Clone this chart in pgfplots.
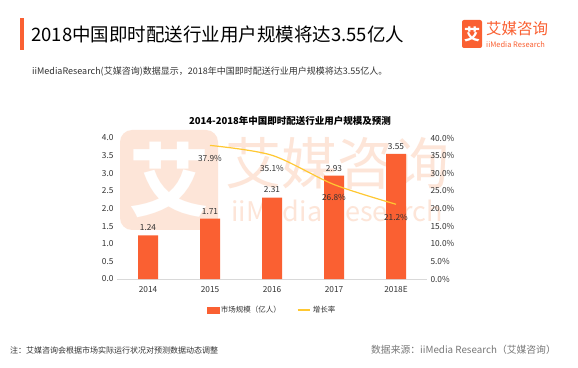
\documentclass[border=0pt]{standalone}
\usepackage{pgfplots}
\pgfplotsset{compat=1.18}
\usepackage{fontspec}
\setmainfont{Noto Sans CJK SC}
\definecolor{barc}{RGB}{250,96,50}
\definecolor{linec}{RGB}{255,200,50}
\definecolor{txt}{RGB}{50,50,50}
\definecolor{wm}{RGB}{253,229,216}
\definecolor{gr}{RGB}{120,120,120}
\begin{document}
\begin{tikzpicture}[x=1pt,y=1pt]
\useasboundingbox[fill=white] (0,0) rectangle (578,367);
% watermark
\fill[wm, rounded corners=12pt] (120,137) rectangle (218,237);
\node[text=white, font=\fontsize{80}{80}\selectfont\bfseries] at (169,187) {艾};
\node[text=wm, font=\fontsize{56}{56}\selectfont] at (337,204) {艾媒咨询};
\node[text=wm, font=\fontsize{27}{27}\selectfont] at (337,156) {iiMedia Research};
% header
\fill[barc] (20,317) rectangle (24,349);
\node[anchor=west, inner sep=0, font=\fontsize{18.5}{20}\selectfont, text=black] at (31,333) {2018中国即时配送行业用户规模将达3.55亿人};
\node[anchor=west, inner sep=0, font=\fontsize{9}{10}\selectfont, text=txt] at (32,295) {iiMediaResearch(艾媒咨询)数据显示，2018年中国即时配送行业用户规模将达3.55亿人。};
% logo
\fill[barc, rounded corners=2pt] (462,319) rectangle (482,347);
\node[text=white, font=\fontsize{16}{16}\selectfont\bfseries] at (472,333) {艾};
\node[anchor=west, inner sep=0, text=barc, font=\fontsize{15.5}{16}\selectfont] at (486,338) {艾媒咨询};
\node[anchor=west, inner sep=0, text=barc, font=\fontsize{7.5}{8}\selectfont] at (486,322) {iiMedia Research};
% chart title
\node[font=\fontsize{9.5}{10}\selectfont\bfseries, text=black] at (290,246) {2014-2018年中国即时配送行业用户规模及预测};
% footer
\node[anchor=west, inner sep=0, font=\fontsize{8}{9}\selectfont, text=txt] at (10,17) {注：艾媒咨询会根据市场实际运行状况对预测数据动态调整};
\node[anchor=east, inner sep=0, font=\fontsize{9.8}{10}\selectfont, text=gr] at (556,17) {数据来源：iiMedia Research（艾媒咨询）};

\begin{axis}[
  at={(117pt,88pt)}, anchor=south west,
  scale only axis, width=310pt, height=141pt,
  xmin=-0.5, xmax=4.5, ymin=0, ymax=4,
  ytick={0,0.5,...,4},
  yticklabel style={/pgf/number format/fixed, /pgf/number format/fixed zerofill, /pgf/number format/precision=1},
  xtick={0,1,2,3,4}, xticklabels={2014,2015,2016,2017,2018E},
  axis x line*=bottom, axis y line*=left,
  x axis line style={draw={rgb,255:red,217;green,217;blue,217}, -},
  y axis line style={draw=none},
  tick style={draw=none},
  ticklabel style={font=\fontsize{8.3}{9}\selectfont, text=txt},
  /pgf/number format/assume math mode=true,
  ybar, bar width=20pt,
  nodes near coords,
  nodes near coords style={font=\fontsize{8.3}{9}\selectfont, text=txt, yshift=1pt, /pgf/number format/fixed, /pgf/number format/fixed zerofill, /pgf/number format/precision=2},
]
\addplot[fill=barc, draw=none] coordinates {(0,1.24)(1,1.71)(2,2.31)(3,2.93)(4,3.55)};
\end{axis}

\begin{axis}[
  at={(117pt,88pt)}, anchor=south west,
  scale only axis, width=310pt, height=141pt,
  xmin=-0.5, xmax=4.5, ymin=0, ymax=40,
  ytick={0,5,...,40},
  yticklabel={\pgfmathprintnumber[fixed,fixed zerofill,precision=1]{\tick}\%},
  axis y line*=right, axis x line=none,
  y axis line style={draw=none},
  tick style={draw=none},
  ticklabel style={font=\fontsize{8.3}{9}\selectfont, text=txt},
  /pgf/number format/assume math mode=true,
  legend style={at={(0.5,-0.22)}, anchor=center, legend columns=2, draw=none, fill=none,
    font=\fontsize{7.5}{8}\selectfont, text=txt, /tikz/every even column/.append style={column sep=14pt}},
  legend image code/.code={\draw[#1] (0cm,0cm) -- (0.45cm,0cm);},
]
\addlegendimage{legend image code/.code={\fill[barc] (0cm,-0.1cm) rectangle (0.42cm,0.1cm);}}
\addlegendentry{市场规模（亿人）}
\addplot[linec, line width=1.2pt, smooth, tension=0.5,
  nodes near coords={\pgfmathprintnumber[fixed,fixed zerofill,precision=1]{\pgfplotspointmeta}\%},
  nodes near coords style={font=\fontsize{8.3}{9}\selectfont, text=txt, anchor=north, yshift=-6pt},
  point meta=explicit]
  coordinates {(1,37.9) [37.9] (2,35.1) [35.1] (3,26.8) [26.8] (4,21.2) [21.2]};
\addlegendentry{增长率}
\end{axis}
\end{tikzpicture}
\end{document}
